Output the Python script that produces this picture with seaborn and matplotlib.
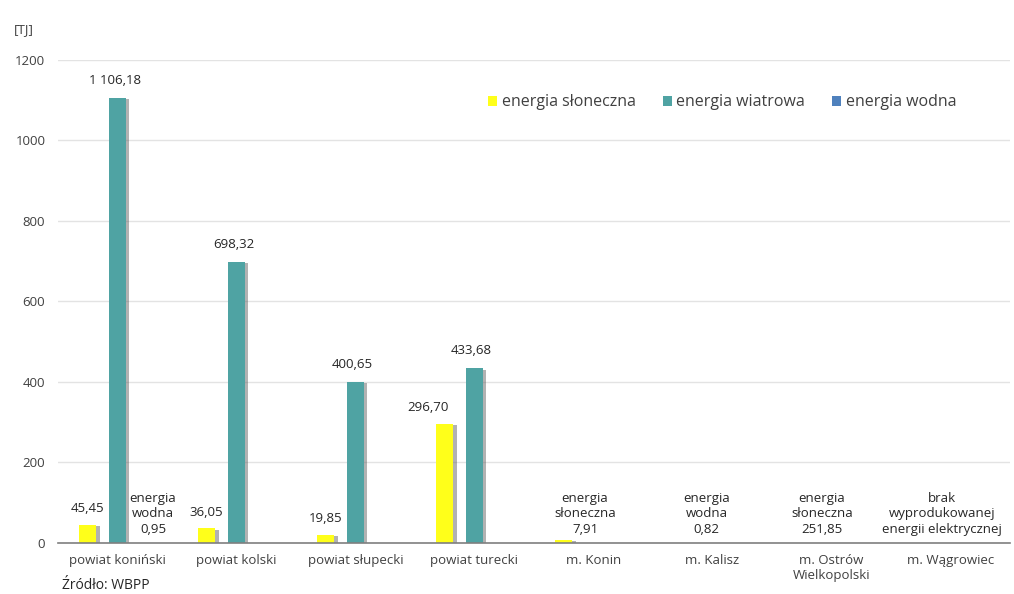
import numpy as np
import pandas as pd
import seaborn as sns
import matplotlib.pyplot as plt
import matplotlib.patheffects as pe

# dane
kategorie = ['powiat koniński', 'powiat kolski', 'powiat słupecki', 'powiat turecki',
             'm. Konin', 'm. Kalisz', 'm. Ostrów\nWielkopolski', 'm. Wągrowiec']
serie = ['energia słoneczna', 'energia wiatrowa', 'energia wodna']
sloneczna = [45.45, 36.05, 19.85, 296.70, 7.91, np.nan, np.nan, np.nan]
wiatrowa = [1106.18, 698.32, 400.65, 433.68, np.nan, np.nan, np.nan, np.nan]
wodna = [0.95, np.nan, np.nan, np.nan, np.nan, 0.82, np.nan, np.nan]
etykiety_sloneczna = ['45,45', '36,05', '19,85', '296,70', '', '', '', '']
etykiety_wiatrowa = ['1 106,18', '698,32', '400,65', '433,68', '', '', '', '']
# etykiety opisowe przy kategoriach bez widocznych slupkow
opisy_idx = [0, 4, 5, 6, 7]
opisy = ['energia\nwodna\n0,95', 'energia\nsłoneczna\n7,91', 'energia\nwodna\n0,82',
         'energia\nsłoneczna\n251,85', 'brak\nwyprodukowanej\nenergii elektrycznej']
opisy_przes = [0.3, -0.07, -0.05, -0.08, -0.07]
kolory = ['#FFFF1A', '#4FA3A3', '#4F81BD']

df = pd.DataFrame({
    'kategoria': kategorie * 3,
    'seria': sum([[s] * len(kategorie) for s in serie], []),
    'wartosc': sloneczna + wiatrowa + wodna,
})

plt.rcParams['font.family'] = ['Open Sans', 'DejaVu Sans']
fig = plt.figure(figsize=(10.14, 5.94), dpi=100)
ax = fig.add_axes([0.057, 0.086, 0.939, 0.813])

sns.barplot(data=df, x='kategoria', y='wartosc', hue='seria', order=kategorie,
            hue_order=serie, palette=kolory, saturation=1, width=0.75, gap=0.42, ax=ax,
            legend=True, errorbar=None)

ax.set_ylim(0, 1200)
ax.set_xlim(-0.5, len(kategorie) - 0.5)
ax.set_yticks(range(0, 1201, 200))
ax.yaxis.grid(True, color='#E3E3E3', linewidth=1)
ax.set_axisbelow(True)
for s in ['top', 'right', 'left']:
    ax.spines[s].set_visible(False)
ax.spines['bottom'].set_color('#7F7F7F')
ax.spines['bottom'].set_linewidth(1.2)
ax.tick_params(axis='both', length=0, labelsize=9.5, labelcolor='#404040')
ax.tick_params(axis='y', pad=9)
ax.tick_params(axis='x', pad=8)
ax.set_xlabel('')
ax.set_ylabel('')

# etykiety wartosci
for i, (v, t) in enumerate(zip(sloneczna, etykiety_sloneczna)):
    if t:
        dx = -12 if v > 200 else 0
        ax.annotate(t, (i - 0.25, v), xytext=(dx, 7), textcoords='offset points',
                    ha='center', va='bottom', fontsize=9.5, color='#262626')
for i, (v, t) in enumerate(zip(wiatrowa, etykiety_wiatrowa)):
    if t:
        ax.annotate(t, (i, v), xytext=(-2, 8), textcoords='offset points',
                    ha='center', va='bottom', fontsize=9.5, color='#262626')
for i, t, dx in zip(opisy_idx, opisy, opisy_przes):
    ax.annotate(t, (i + dx, 0), xytext=(0, 5), textcoords='offset points',
                ha='center', va='bottom', fontsize=9.5, color='#262626', linespacing=1.25)

# legenda
h, l = ax.get_legend_handles_labels()
ax.legend(h, l, loc='center left', bbox_to_anchor=(0.437, 0.912), ncol=3, frameon=False,
          fontsize=11.5, handlelength=0.55, handleheight=0.55, handletextpad=0.3,
          columnspacing=1.7, labelcolor='#404040')

# cien slupkow (po legendzie, zeby nie trafil do legendy)
for p in ax.patches:
    p.set_path_effects([pe.SimplePatchShadow(offset=(2.5, -1), shadow_rgbFace='#555555', alpha=0.45),
                        pe.Normal()])

fig.text(0.014, 0.945, '[TJ]', fontsize=9.5, color='#404040')
fig.text(0.148, 0.002, 'Źródło: WBPP', fontsize=10, ha='right', va='bottom', color='#262626')

fig.savefig('out.png', dpi=100, facecolor='white')
